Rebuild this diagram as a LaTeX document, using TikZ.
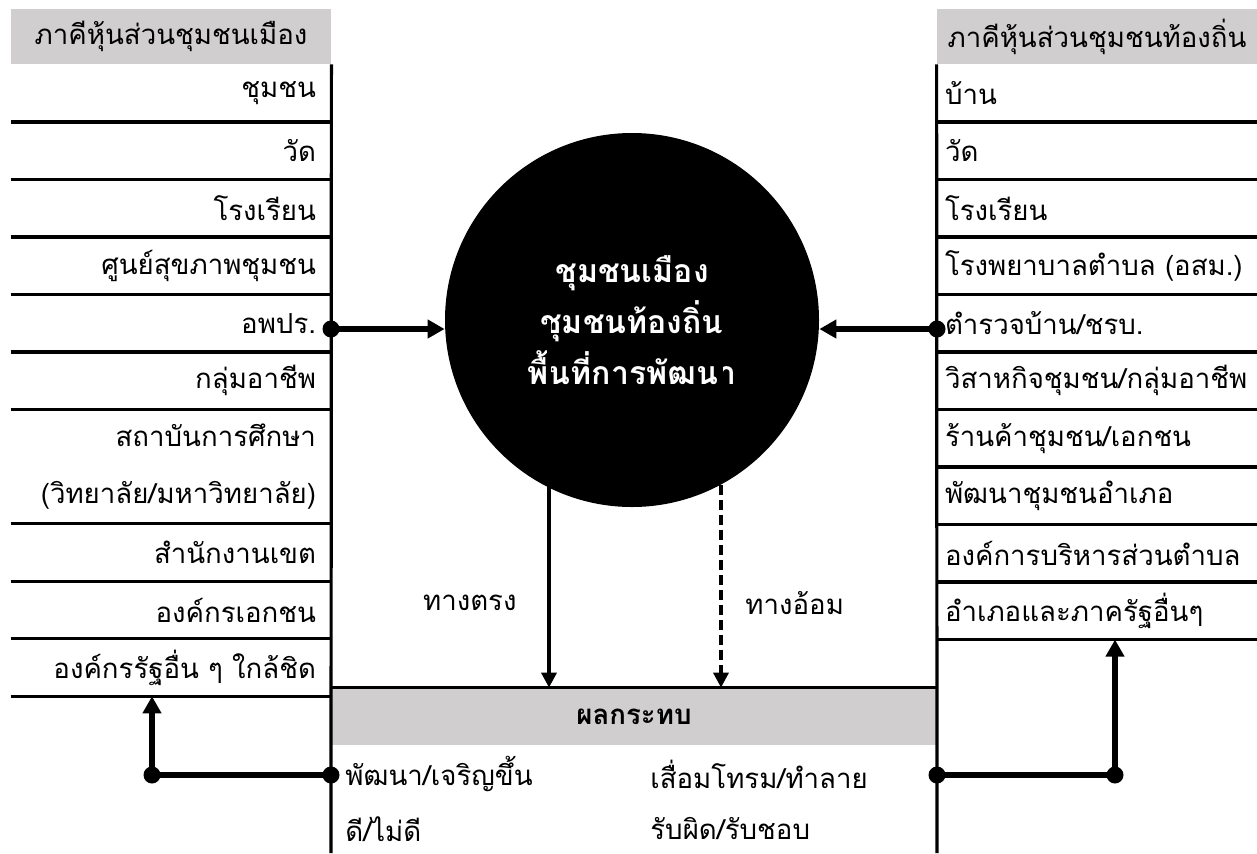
\documentclass[tikz,border=0pt]{standalone}
\usepackage{fontspec}
\setmainfont{Loma}[Script=Thai]
\usetikzlibrary{positioning, calc, arrows.meta}
\definecolor{headgray}{RGB}{208,206,206}

\begin{document}
\begin{tikzpicture}[x=0.5pt, y=-0.5pt]
  \newcommand\rowh{28.36pt}
  \newcommand\colw{160pt}
  \newcommand\listfont{\fontsize{13.8}{16}\selectfont}
  \newcommand\hubfont{\fontsize{16}{25.5}\selectfont\bfseries}

  \tikzset{partyentry/.style={minimum width=\colw, minimum height=\rowh, inner ysep=0pt, font=\listfont}}
  \tikzset{cityentry/.style={partyentry, inner xsep=7.5pt, text width=\colw-15pt, align=right}}
  \tikzset{cityentrytall/.style={cityentry, minimum height=2*\rowh, font=\fontsize{13.8}{28.36}\selectfont}}
  \tikzset{localentry/.style={partyentry, inner xsep=4pt, text width=\colw-8pt, align=left}}
  \tikzset{partyhead/.style={partyentry, fill=headgray, minimum height=27.5pt, align=center}}
  \tikzset{impacthead/.style={partyhead, minimum width=303pt, minimum height=28.5pt, font=\listfont\bfseries}}
  \tikzset{outcome/.style={text width=120pt, align=left, minimum height=27pt, inner sep=0pt, font=\listfont}}
  \tikzset{hub/.style={circle, fill=black, text=white, minimum size=187pt, inner sep=0pt, align=center, font=\hubfont}}
  \tikzset{rule/.style={line width=1.6pt}}
  \tikzset{dot/.style={circle, fill, inner sep=0pt, minimum size=8.5pt}}
  \tikzset{ptr/.style={-{Triangle[length=7.5pt, width=7.5pt]}, line width=1.8pt}}
  \tikzset{indirectptr/.style={ptr, dash pattern=on 5pt off 2.5pt}}
  \tikzset{bigptr/.style={-{Triangle[length=8.5pt, width=9pt]}, line width=2.8pt}}

  \useasboundingbox (0,0) rectangle (1257,853);

  % partner lists
  \node[partyhead] (cityhead) at (171,36.5) {ภาคีหุ้นส่วนชุมชนเมือง};
  \node[cityentry, below=0pt of cityhead] (cl1) {ชุมชน};
  \foreach \name/\idx/\style [count=\prev from 1] in {วัด/2/cityentry, โรงเรียน/3/cityentry, ศูนย์สุขภาพชุมชน/4/cityentry, อพปร./5/cityentry, กลุ่มอาชีพ/6/cityentry, {สถาบันการศึกษา\\(วิทยาลัย/มหาวิทยาลัย)}/7/cityentrytall, สำนักงานเขต/8/cityentry, องค์กรเอกชน/9/cityentry, {องค์กรรัฐอื่น ๆ ใกล้ชิด}/10/cityentry}{
    \node[\style, below=0pt of cl\prev] (cl\idx) {\name};
  }

  \node[partyhead] (localhead) at (1097,36.5) {ภาคีหุ้นส่วนชุมชนท้องถิ่น};
  \node[localentry, below=0pt of localhead] (ll1) {บ้าน};
  \foreach \name/\idx [count=\prev from 1] in {วัด/2, โรงเรียน/3, {โรงพยาบาลตำบล (อสม.)}/4, {ตำรวจบ้าน/ชรบ.}/5, {วิสาหกิจชุมชน/กลุ่มอาชีพ}/6, {ร้านค้าชุมชน/เอกชน}/7, พัฒนาชุมชนอำเภอ/8, องค์การบริหารส่วนตำบล/9, อำเภอและภาครัฐอื่นๆ/10}{
    \node[localentry, below=0pt of ll\prev] (ll\idx) {\name};
  }

  % impact box
  \node[impacthead] (impact) at (634,716.5) {ผลกระทบ};
  \node[outcome, anchor=west] (good) at (345,774) {พัฒนา/เจริญขึ้น};
  \node[outcome, below=0pt of good] (good2) {ดี/ไม่ดี};
  \node[outcome, anchor=west] (bad) at (650,774) {เสื่อมโทรม/ทำลาย};
  \node[outcome, below=0pt of bad] (bad2) {รับผิด/รับชอบ};

  % rules
  \coordinate (citybot) at (331,853);
  \coordinate (localbot) at (937,853);
  \foreach \i in {1,...,10}{
    \draw[rule] (cl\i.south west) -- (cl\i.south east);
    \draw[rule] (ll\i.south west) -- (ll\i.south east);
  }
  \draw[rule] (cl1.north east) -- (citybot);
  \draw[rule] (ll1.north west) -- (localbot);
  \draw[rule] (impact.north west) -- (impact.north east);

  % hub
  \node[hub] (hub) at (632,320) {ชุมชนเมือง\\ชุมชนท้องถิ่น\\พื้นที่การพัฒนา};

  \node[dot] (citydot) at (331,329) {};
  \node[dot] (localdot) at (937,329) {};
  \draw[bigptr] (citydot.center) -- (citydot -| hub.west);
  \draw[bigptr] (localdot.center) -- (localdot -| hub.east);

  \coordinate (direct) at ($(hub.center)+(-83,0)$);
  \coordinate (indirect) at ($(hub.center)+(89,0)$);
  \draw[ptr] (direct) -- (direct |- impact.north) node[pos=0.77, left=12pt, font=\listfont] {ทางตรง};
  \draw[indirectptr] (indirect) -- (indirect |- impact.north) node[pos=0.77, right=8pt, font=\listfont] {ทางอ้อม};

  % feedback
  \node[dot] (cityfb) at (331,775) {};
  \node[dot] (cityturn) at (152,775) {};
  \draw[bigptr] (cityfb.center) -- (cityturn.center) -- (cityturn |- cl10.south);
  \node[dot] (localfb) at (937,775) {};
  \node[dot] (localturn) at (1115,775) {};
  \draw[bigptr] (localfb.center) -- (localturn.center) -- (localturn |- ll10.south);
\end{tikzpicture}
\end{document}
